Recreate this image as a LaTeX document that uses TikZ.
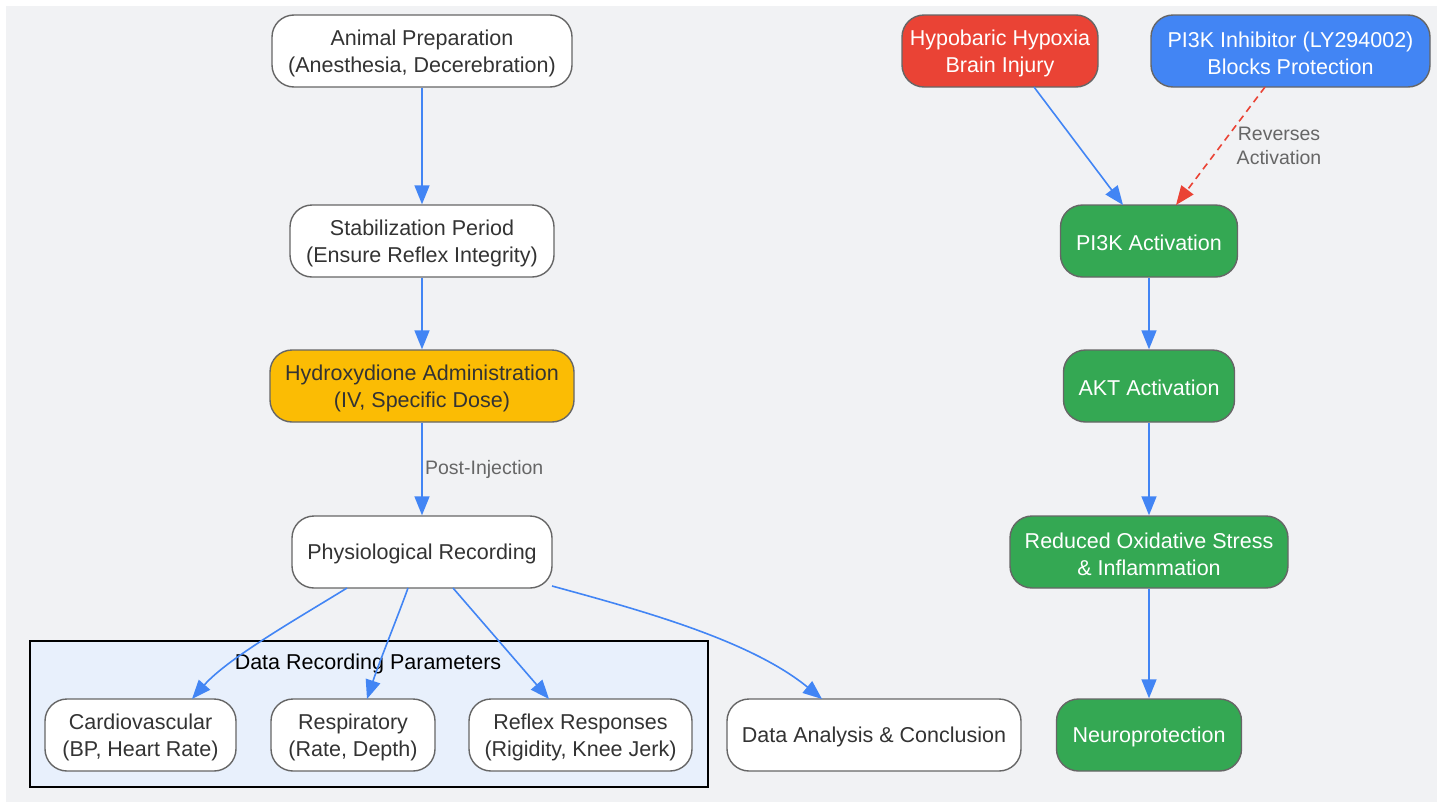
\documentclass[tikz,border=0pt]{standalone}
\usepackage{fontspec}
\setmainfont{Liberation Sans}
\usetikzlibrary{arrows.meta}
\definecolor{bggray}{HTML}{F1F2F4}
\definecolor{clfill}{HTML}{E8F0FC}
\definecolor{gblue}{HTML}{4285F4}
\definecolor{gred}{HTML}{EA4335}
\definecolor{ggreen}{HTML}{34A853}
\definecolor{gyellow}{HTML}{FBBC04}
\definecolor{bord}{HTML}{666666}
\definecolor{txt}{HTML}{333333}
\definecolor{lbl}{HTML}{666666}
\tikzset{
  box/.style={draw=bord, line width=1.4pt, rounded corners=22pt, inner sep=0pt,
    minimum height=72pt, fill=white},
  ltxt/.style={align=center, text=txt, inner sep=0pt, yshift=-2.5pt,
    font=\fontsize{21.5}{27}\selectfont},
  ltxtw/.style={ltxt, text=white},
  redbox/.style={box, fill=gred},
  bluebox/.style={box, fill=gblue},
  greenbox/.style={box, fill=ggreen},
  yelbox/.style={box, fill=gyellow},
  arr/.style={draw=gblue, line width=1.6pt, -{Triangle[length=19pt,width=15pt]}},
  darr/.style={draw=gred, line width=1.6pt, dash pattern=on 7pt off 5pt, -{Triangle[length=19pt,width=15pt]}},
  elabel/.style={text=lbl, font=\fontsize{19.5}{24}\selectfont, align=center}
}
\begin{document}
\begin{tikzpicture}[x=1pt,y=-1pt]
\useasboundingbox (0,0) rectangle (1443,806);
\fill[bggray] (6,6) rectangle (1437,802);
% cluster
\node[draw=black, line width=2pt, fill=clfill, minimum width=678pt, minimum height=146pt, inner sep=0pt] (cl) at (369,714) {};
\node[text=black, font=\fontsize{21.5}{27}\selectfont] (cllabel) at (368,664) {Data Recording Parameters};
% left column
\node[box, minimum width=300pt, label={[ltxt]center:{Animal Preparation\\(Anesthesia, Decerebration)}}] (prep) at (422,51) {};
\node[box, minimum width=264pt, label={[ltxt]center:{Stabilization Period\\(Ensure Reflex Integrity)}}] (stab) at (422,241) {};
\node[yelbox, minimum width=304pt, label={[ltxt]center:{Hydroxydione Administration\\(IV, Specific Dose)}}] (hydro) at (422,386) {};
\node[box, minimum width=260pt, label={[ltxt, yshift=0.5pt]center:{Physiological Recording}}] (phys) at (422,552) {};
\node[box, minimum width=191pt, label={[ltxt]center:{Cardiovascular\\(BP, Heart Rate)}}] (cardio) at (140.5,735) {};
\node[box, minimum width=164pt, label={[ltxt]center:{Respiratory\\(Rate, Depth)}}] (resp) at (353,735) {};
\node[box, minimum width=223pt, label={[ltxt]center:{Reflex Responses\\(Rigidity, Knee Jerk)}}] (reflex) at (580.5,735) {};
\node[box, minimum width=294pt, label={[ltxt, yshift=0.5pt]center:{Data Analysis \& Conclusion}}] (data) at (874,735) {};
% right column
\node[redbox, minimum width=196pt, label={[ltxtw]center:{Hypobaric Hypoxia\\Brain Injury}}] (hypo) at (1000,51) {};
\node[bluebox, minimum width=279pt, label={[ltxtw]center:{PI3K Inhibitor (LY294002)\\Blocks Protection}}] (inhib) at (1290.5,51) {};
\node[greenbox, minimum width=177pt, label={[ltxtw, yshift=0.5pt]center:{PI3K Activation}}] (pi3k) at (1149,241) {};
\node[greenbox, minimum width=171pt, label={[ltxtw, yshift=0.5pt]center:{AKT Activation}}] (akt) at (1149,386) {};
\node[greenbox, minimum width=278pt, label={[ltxtw]center:{Reduced Oxidative Stress\\\& Inflammation}}] (red) at (1149,552) {};
\node[greenbox, minimum width=185pt, label={[ltxtw, yshift=0.5pt]center:{Neuroprotection}}] (neuro) at (1149,735) {};
% edges
\draw[arr] (prep) -- (stab);
\draw[arr] (stab) -- (hydro);
\draw[arr] (hydro) -- (phys) node[elabel, pos=0.5, right=-1pt] (pilabel) {Post-Injection};
\coordinate (p1) at (347,588);
\coordinate (p2) at (408,588);
\coordinate (p3) at (453,588);
\coordinate (p4) at (552,586);
\coordinate (c1) at (192,699);
\coordinate (r1) at (367,699);
\coordinate (f1) at (549,699);
\coordinate (d1) at (822,699);
\draw[arr] (p1) .. controls (300,617) and (228,658) .. (c1);
\draw[arr] (p2) .. controls (398,616) and (380,660) .. (r1);
\draw[arr] (p3) -- (f1);
\draw[arr] (p4) .. controls (640,610) and (750,640) .. (d1);
\coordinate (h1) at (1034,87);
\coordinate (h2) at (1123,205);
\coordinate (i1) at (1265,87);
\coordinate (i2) at (1176,205);
\draw[arr] (h1) -- (h2);
\draw[darr] (i1) -- (i2);
\node[elabel] (revlabel) at (1279,146) {Reverses\\Activation};
\draw[arr] (pi3k) -- (akt);
\draw[arr] (akt) -- (red);
\draw[arr] (red) -- (neuro);
\end{tikzpicture}
\end{document}
